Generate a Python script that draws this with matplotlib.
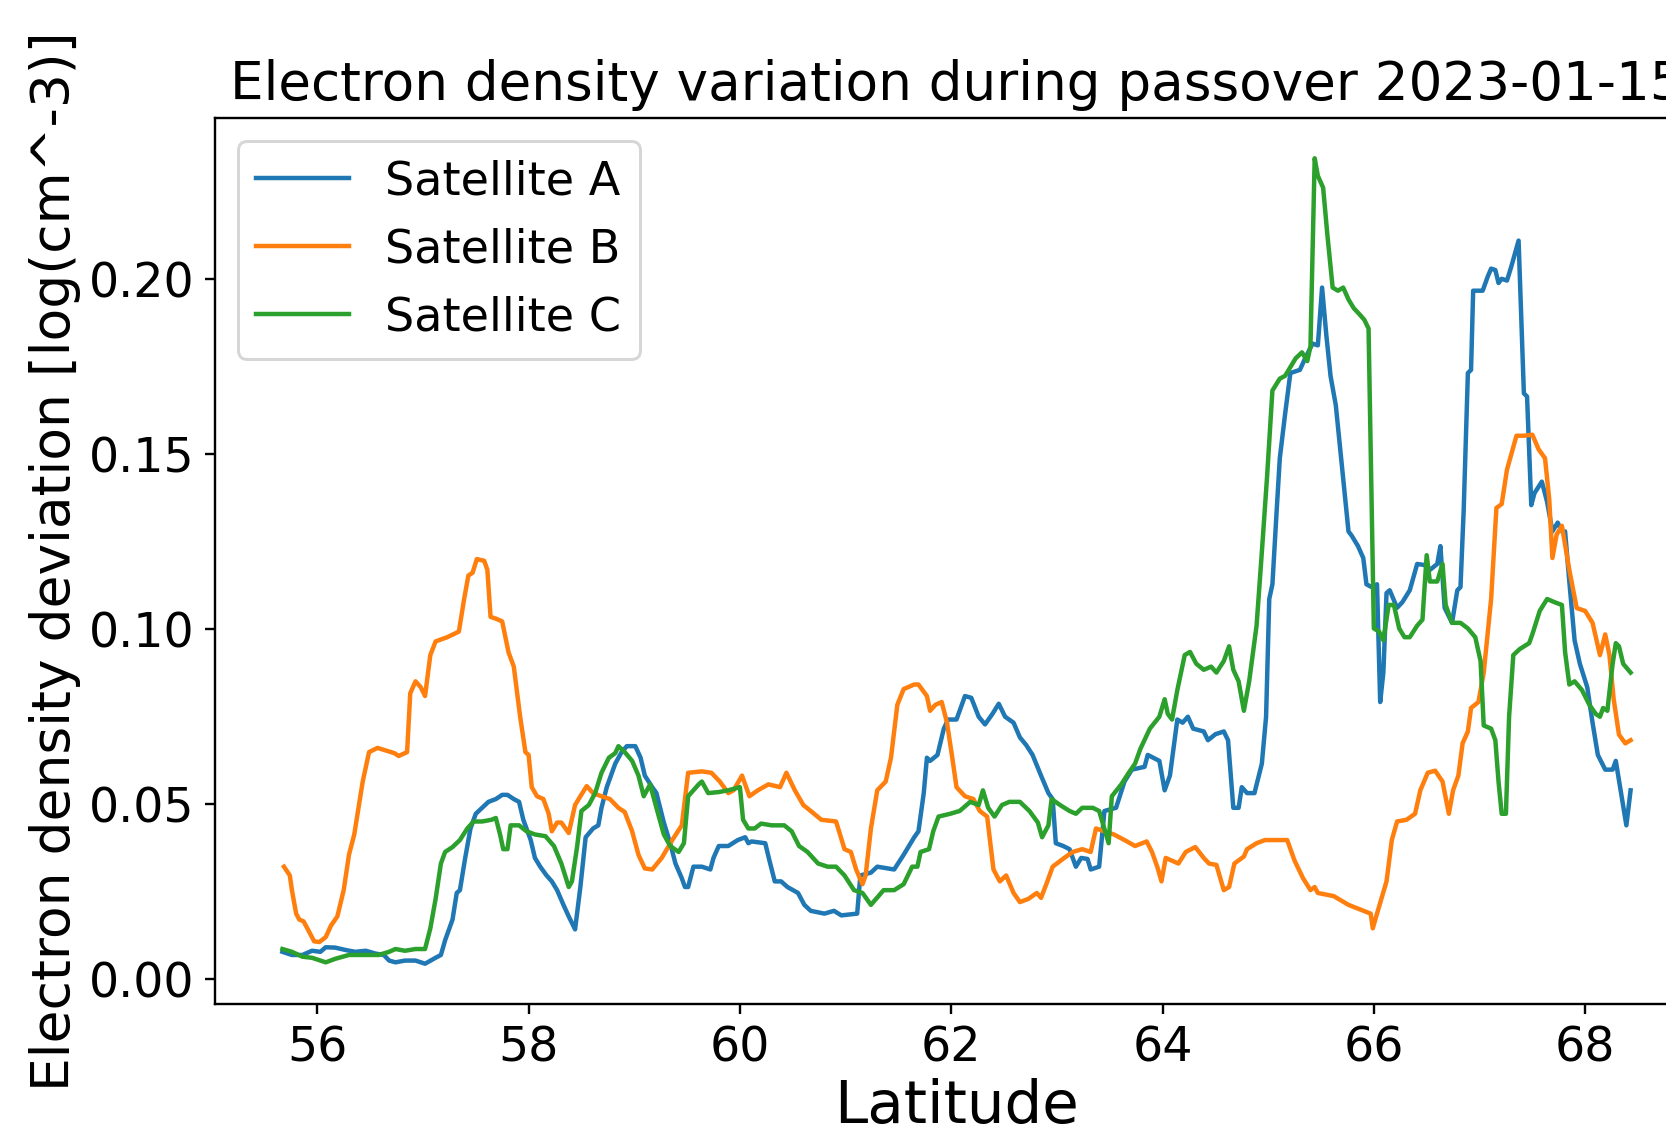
import matplotlib
matplotlib.use("Agg")
import matplotlib.pyplot as plt

# Satellite A (blue)
lat_a = [55.67, 55.76, 55.86, 55.95, 56.03, 56.08, 56.17, 56.27, 56.36, 56.46, 56.55, 56.63, 56.68, 56.74,
         56.83, 56.93, 57.02, 57.12, 57.17, 57.21, 57.28, 57.32, 57.35, 57.40, 57.45, 57.50, 57.56, 57.62,
         57.69, 57.75, 57.80, 57.86, 57.91, 57.95, 58.02, 58.06, 58.11, 58.17, 58.22, 58.27, 58.33, 58.38,
         58.44, 58.49, 58.54, 58.61, 58.66, 58.69, 58.74, 58.82, 58.88, 58.93, 59.01, 59.06, 59.10, 59.17,
         59.21, 59.28, 59.34, 59.39, 59.45, 59.48, 59.51, 59.56, 59.64, 59.72, 59.75, 59.80, 59.89, 59.98,
         60.05, 60.08, 60.11, 60.24, 60.28, 60.33, 60.39, 60.45, 60.55, 60.61, 60.67, 60.80, 60.89, 60.96,
         61.11, 61.14, 61.24, 61.30, 61.46, 61.55, 61.65, 61.69, 61.74, 61.77, 61.80, 61.87, 61.93, 61.97,
         62.05, 62.13, 62.19, 62.26, 62.32, 62.39, 62.45, 62.51, 62.59, 62.65, 62.71, 62.77, 62.85, 62.92,
         62.96, 62.99, 63.06, 63.12, 63.18, 63.23, 63.29, 63.32, 63.40, 63.45, 63.56, 63.64, 63.71, 63.83,
         63.86, 63.97, 64.02, 64.07, 64.14, 64.19, 64.24, 64.29, 64.39, 64.43, 64.50, 64.58, 64.62, 64.67,
         64.72, 64.75, 64.80, 64.87, 64.94, 64.98, 65.01, 65.04, 65.08, 65.11, 65.16, 65.21, 65.30, 65.35,
         65.42, 65.47, 65.51, 65.55, 65.59, 65.64, 65.69, 65.76, 65.79, 65.85, 65.90, 65.93, 65.98, 66.03,
         66.06, 66.09, 66.12, 66.15, 66.22, 66.27, 66.34, 66.41, 66.48, 66.53, 66.60, 66.63, 66.67, 66.74,
         66.79, 66.82, 66.85, 66.89, 66.92, 66.94, 67.03, 67.08, 67.11, 67.15, 67.18, 67.21, 67.26, 67.30,
         67.37, 67.42, 67.45, 67.49, 67.52, 67.59, 67.64, 67.69, 67.74, 67.78, 67.81, 67.85, 67.90, 67.95,
         68.02, 68.07, 68.12, 68.19, 68.26, 68.29, 68.34, 68.39, 68.43]
dev_a = [0.0079, 0.0070, 0.0070, 0.0082, 0.0079, 0.0092, 0.0091, 0.0084, 0.0079, 0.0082, 0.0074, 0.0070, 0.0054, 0.0049,
         0.0054, 0.0054, 0.0045, 0.0062, 0.0070, 0.0112, 0.0171, 0.0247, 0.0255, 0.0347, 0.0431, 0.0473, 0.0490, 0.0507,
         0.0515, 0.0527, 0.0527, 0.0515, 0.0507, 0.0456, 0.0398, 0.0347, 0.0322, 0.0297, 0.0280, 0.0255, 0.0213, 0.0180,
         0.0143, 0.0264, 0.0406, 0.0431, 0.0440, 0.0490, 0.0549, 0.0616, 0.0649, 0.0666, 0.0666, 0.0633, 0.0582, 0.0549,
         0.0532, 0.0448, 0.0389, 0.0331, 0.0289, 0.0264, 0.0264, 0.0322, 0.0322, 0.0314, 0.0347, 0.0381, 0.0381, 0.0398,
         0.0406, 0.0389, 0.0394, 0.0389, 0.0339, 0.0280, 0.0280, 0.0264, 0.0247, 0.0213, 0.0196, 0.0188, 0.0196, 0.0183,
         0.0188, 0.0297, 0.0305, 0.0322, 0.0314, 0.0356, 0.0406, 0.0423, 0.0532, 0.0633, 0.0624, 0.0641, 0.0716, 0.0742,
         0.0742, 0.0809, 0.0804, 0.0750, 0.0728, 0.0758, 0.0787, 0.0750, 0.0733, 0.0691, 0.0669, 0.0641, 0.0582, 0.0532,
         0.0515, 0.0389, 0.0381, 0.0372, 0.0322, 0.0347, 0.0344, 0.0314, 0.0322, 0.0481, 0.0490, 0.0565, 0.0599, 0.0607,
         0.0641, 0.0624, 0.0540, 0.0582, 0.0742, 0.0733, 0.0750, 0.0716, 0.0708, 0.0683, 0.0700, 0.0708, 0.0683, 0.0490,
         0.0490, 0.0549, 0.0532, 0.0532, 0.0616, 0.0750, 0.1086, 0.1128, 0.1337, 0.1488, 0.1614, 0.1731, 0.1740, 0.1773,
         0.1815, 0.1810, 0.1975, 0.1840, 0.1723, 0.1639, 0.1488, 0.1279, 0.1267, 0.1237, 0.1203, 0.1128, 0.1120, 0.1128,
         0.0792, 0.0876, 0.1103, 0.1111, 0.1061, 0.1077, 0.1111, 0.1186, 0.1183, 0.1169, 0.1186, 0.1237, 0.1061, 0.1018,
         0.1111, 0.1120, 0.1337, 0.1731, 0.1740, 0.1966, 0.1966, 0.2008, 0.2029, 0.2025, 0.1988, 0.2000, 0.1995, 0.2034,
         0.2109, 0.1673, 0.1664, 0.1354, 0.1388, 0.1421, 0.1363, 0.1279, 0.1304, 0.1279, 0.1279, 0.1136, 0.0968, 0.0901,
         0.0834, 0.0733, 0.0641, 0.0599, 0.0599, 0.0624, 0.0532, 0.0440, 0.0540]

# Satellite B (orange)
lat_b = [55.685, 55.74, 55.76, 55.80, 55.83, 55.87, 55.92, 55.97, 56.02, 56.08, 56.13, 56.19, 56.25, 56.30,
         56.35, 56.43, 56.49, 56.57, 56.73, 56.77, 56.85, 56.88, 56.93, 56.98, 57.02, 57.07, 57.12, 57.23,
         57.34, 57.39, 57.43, 57.47, 57.51, 57.58, 57.61, 57.64, 57.69, 57.75, 57.81, 57.86, 57.92, 57.97,
         58.00, 58.03, 58.08, 58.14, 58.19, 58.22, 58.27, 58.31, 58.38, 58.44, 58.49, 58.55, 58.61, 58.69,
         58.77, 58.85, 58.91, 58.98, 59.04, 59.10, 59.17, 59.26, 59.36, 59.45, 59.51, 59.64, 59.73, 59.81,
         59.89, 59.94, 60.02, 60.09, 60.17, 60.27, 60.38, 60.44, 60.52, 60.60, 60.67, 60.77, 60.91, 60.99,
         61.05, 61.10, 61.16, 61.19, 61.24, 61.30, 61.38, 61.43, 61.49, 61.55, 61.65, 61.69, 61.77, 61.80,
         61.85, 61.91, 61.96, 62.01, 62.05, 62.13, 62.21, 62.27, 62.34, 62.40, 62.46, 62.52, 62.59, 62.65,
         62.73, 62.81, 62.85, 62.90, 62.96, 63.07, 63.15, 63.24, 63.32, 63.37, 63.45, 63.54, 63.64, 63.74,
         63.85, 63.90, 63.95, 63.99, 64.03, 64.09, 64.15, 64.22, 64.31, 64.39, 64.44, 64.51, 64.58, 64.63,
         64.68, 64.77, 64.80, 64.89, 64.97, 65.18, 65.25, 65.33, 65.40, 65.44, 65.47, 65.62, 65.76, 65.93,
         65.97, 65.99, 66.03, 66.12, 66.17, 66.22, 66.31, 66.39, 66.44, 66.51, 66.58, 66.65, 66.71, 66.75,
         66.80, 66.84, 66.89, 66.92, 66.99, 67.04, 67.11, 67.16, 67.21, 67.26, 67.35, 67.42, 67.50, 67.56,
         67.62, 67.66, 67.69, 67.73, 67.78, 67.85, 67.92, 68.00, 68.07, 68.14, 68.19, 68.23, 68.27, 68.32,
         68.38, 68.43]
dev_b = [0.0322, 0.0297, 0.0255, 0.0188, 0.0171, 0.0166, 0.0138, 0.0109, 0.0107, 0.0121, 0.0154, 0.0180, 0.0255, 0.0356,
         0.0414, 0.0565, 0.0649, 0.0661, 0.0646, 0.0638, 0.0649, 0.0817, 0.0851, 0.0834, 0.0809, 0.0926, 0.0965, 0.0977,
         0.0993, 0.1086, 0.1153, 0.1161, 0.1200, 0.1195, 0.1169, 0.1035, 0.1030, 0.1022, 0.0934, 0.0893, 0.0750, 0.0649,
         0.0641, 0.0549, 0.0523, 0.0515, 0.0473, 0.0423, 0.0448, 0.0448, 0.0418, 0.0498, 0.0523, 0.0552, 0.0532, 0.0523,
         0.0515, 0.0490, 0.0478, 0.0423, 0.0356, 0.0317, 0.0314, 0.0347, 0.0398, 0.0440, 0.0590, 0.0594, 0.0590, 0.0565,
         0.0532, 0.0540, 0.0582, 0.0523, 0.0540, 0.0557, 0.0549, 0.0590, 0.0540, 0.0498, 0.0481, 0.0456, 0.0451, 0.0372,
         0.0364, 0.0314, 0.0272, 0.0297, 0.0431, 0.0540, 0.0565, 0.0633, 0.0784, 0.0829, 0.0842, 0.0842, 0.0809, 0.0767,
         0.0784, 0.0792, 0.0733, 0.0633, 0.0549, 0.0523, 0.0515, 0.0481, 0.0465, 0.0314, 0.0280, 0.0297, 0.0247, 0.0221,
         0.0230, 0.0247, 0.0233, 0.0272, 0.0322, 0.0347, 0.0364, 0.0372, 0.0364, 0.0431, 0.0423, 0.0414, 0.0398, 0.0381,
         0.0394, 0.0364, 0.0322, 0.0280, 0.0347, 0.0339, 0.0331, 0.0364, 0.0378, 0.0347, 0.0331, 0.0327, 0.0255, 0.0264,
         0.0331, 0.0351, 0.0372, 0.0389, 0.0398, 0.0398, 0.0339, 0.0289, 0.0255, 0.0264, 0.0247, 0.0238, 0.0213, 0.0193,
         0.0188, 0.0146, 0.0188, 0.0280, 0.0398, 0.0451, 0.0456, 0.0473, 0.0540, 0.0590, 0.0596, 0.0565, 0.0473, 0.0540,
         0.0582, 0.0674, 0.0708, 0.0775, 0.0792, 0.0876, 0.1086, 0.1346, 0.1357, 0.1455, 0.1552, 0.1552, 0.1555, 0.1513,
         0.1488, 0.1371, 0.1203, 0.1270, 0.1295, 0.1169, 0.1060, 0.1052, 0.1018, 0.0926, 0.0985, 0.0926, 0.0800, 0.0699,
         0.0674, 0.0683]

# Satellite C (green)
lat_c = [55.67, 55.76, 55.86, 55.95, 56.08, 56.17, 56.30, 56.43, 56.58, 56.68, 56.74, 56.83, 56.93, 57.02,
         57.07, 57.12, 57.17, 57.21, 57.28, 57.35, 57.42, 57.48, 57.56, 57.65, 57.69, 57.73, 57.76, 57.80,
         57.83, 57.91, 57.98, 58.06, 58.16, 58.24, 58.31, 58.38, 58.41, 58.46, 58.50, 58.57, 58.63, 58.69,
         58.76, 58.82, 58.85, 58.91, 58.98, 59.04, 59.09, 59.15, 59.21, 59.28, 59.34, 59.42, 59.47, 59.51,
         59.61, 59.64, 59.70, 59.80, 59.89, 60.00, 60.03, 60.08, 60.14, 60.20, 60.30, 60.42, 60.49, 60.56,
         60.64, 60.74, 60.83, 60.91, 60.99, 61.08, 61.16, 61.24, 61.36, 61.46, 61.55, 61.63, 61.68, 61.71,
         61.79, 61.83, 61.88, 61.99, 62.08, 62.18, 62.26, 62.30, 62.35, 62.41, 62.48, 62.55, 62.65, 62.74,
         62.82, 62.86, 62.92, 62.95, 63.03, 63.12, 63.18, 63.24, 63.34, 63.40, 63.49, 63.52, 63.61, 63.68,
         63.74, 63.79, 63.88, 63.97, 64.02, 64.05, 64.09, 64.14, 64.21, 64.26, 64.32, 64.39, 64.46, 64.51,
         64.58, 64.63, 64.67, 64.72, 64.77, 64.82, 64.89, 64.94, 64.99, 65.04, 65.11, 65.16, 65.21, 65.26,
         65.32, 65.37, 65.40, 65.44, 65.47, 65.52, 65.56, 65.61, 65.66, 65.71, 65.76, 65.81, 65.86, 65.91,
         65.95, 65.98, 66.00, 66.05, 66.09, 66.14, 66.19, 66.24, 66.29, 66.34, 66.41, 66.46, 66.50, 66.53,
         66.60, 66.65, 66.68, 66.74, 66.82, 66.89, 66.96, 67.01, 67.04, 67.11, 67.15, 67.18, 67.21, 67.25,
         67.28, 67.32, 67.38, 67.47, 67.50, 67.57, 67.64, 67.71, 67.78, 67.81, 67.85, 67.90, 67.97, 68.04,
         68.10, 68.14, 68.17, 68.21, 68.26, 68.29, 68.32, 68.36, 68.43]
dev_c = [0.0087, 0.0079, 0.0065, 0.0062, 0.0049, 0.0059, 0.0070, 0.0070, 0.0070, 0.0079, 0.0087, 0.0082, 0.0087, 0.0087,
         0.0146, 0.0230, 0.0331, 0.0364, 0.0378, 0.0398, 0.0431, 0.0451, 0.0451, 0.0456, 0.0461, 0.0414, 0.0372, 0.0372,
         0.0440, 0.0440, 0.0423, 0.0414, 0.0409, 0.0381, 0.0331, 0.0264, 0.0280, 0.0381, 0.0481, 0.0498, 0.0532, 0.0590,
         0.0633, 0.0646, 0.0666, 0.0649, 0.0624, 0.0582, 0.0523, 0.0557, 0.0490, 0.0414, 0.0381, 0.0364, 0.0389, 0.0523,
         0.0557, 0.0565, 0.0532, 0.0535, 0.0540, 0.0549, 0.0456, 0.0431, 0.0431, 0.0445, 0.0440, 0.0440, 0.0423, 0.0381,
         0.0364, 0.0331, 0.0322, 0.0322, 0.0297, 0.0255, 0.0247, 0.0213, 0.0255, 0.0255, 0.0272, 0.0322, 0.0322, 0.0364,
         0.0372, 0.0423, 0.0465, 0.0473, 0.0481, 0.0507, 0.0498, 0.0540, 0.0490, 0.0465, 0.0498, 0.0507, 0.0507, 0.0481,
         0.0448, 0.0406, 0.0440, 0.0515, 0.0498, 0.0481, 0.0473, 0.0490, 0.0490, 0.0481, 0.0389, 0.0523, 0.0557, 0.0590,
         0.0616, 0.0658, 0.0716, 0.0750, 0.0800, 0.0758, 0.0742, 0.0826, 0.0926, 0.0935, 0.0901, 0.0884, 0.0893, 0.0876,
         0.0909, 0.0951, 0.0884, 0.0851, 0.0767, 0.0851, 0.1010, 0.1220, 0.1438, 0.1681, 0.1715, 0.1723, 0.1748, 0.1773,
         0.1790, 0.1765, 0.1807, 0.2344, 0.2294, 0.2260, 0.2126, 0.1975, 0.1966, 0.1975, 0.1941, 0.1916, 0.1900, 0.1883,
         0.1858, 0.1337, 0.1002, 0.0993, 0.0968, 0.1069, 0.1069, 0.1002, 0.0977, 0.0977, 0.1010, 0.1027, 0.1211, 0.1136,
         0.1136, 0.1186, 0.1069, 0.1018, 0.1018, 0.1002, 0.0977, 0.0909, 0.0725, 0.0716, 0.0683, 0.0565, 0.0473, 0.0473,
         0.0750, 0.0926, 0.0943, 0.0960, 0.0985, 0.1052, 0.1086, 0.1077, 0.1069, 0.0935, 0.0842, 0.0851, 0.0826, 0.0784,
         0.0758, 0.0750, 0.0775, 0.0767, 0.0901, 0.0960, 0.0951, 0.0901, 0.0876]

DPI = 214
fig = plt.figure(figsize=(1666 / DPI, 1124 / DPI), dpi=DPI)
# axes run past the right edge of the canvas, as in the original crop
ax = fig.add_axes([215 / 1666, 120 / 1124, 1483 / 1666, 886 / 1124])

ax.plot(lat_a, dev_a, label="Satellite A")
ax.plot(lat_b, dev_b, label="Satellite B")
ax.plot(lat_c, dev_c, label="Satellite C")

ax.set_title("Electron density variation during passover 2023-01-15", fontsize=17.9)
ax.set_xlabel("Latitude", fontsize=20, labelpad=2)
ax.set_ylabel("Electron density deviation [log(cm^-3)]", fontsize=18, labelpad=2.5)
ax.tick_params(labelsize=16)
ax.legend(loc="upper left", fontsize=15.5)

fig.savefig("out.png", dpi=DPI)
